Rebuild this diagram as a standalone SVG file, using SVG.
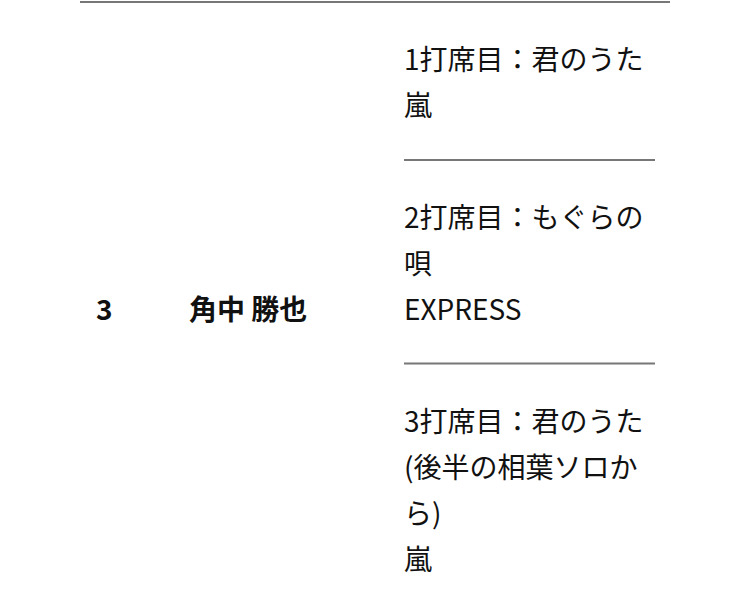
<svg xmlns="http://www.w3.org/2000/svg" width="750" height="611" viewBox="0 0 750 611">
<style>
.t{font-family:"Noto Sans CJK JP","Noto Sans",sans-serif;font-size:28px;fill:#111}
.b{font-weight:bold}
.rule{stroke:#777;stroke-width:2}
</style>
<rect width="750" height="611" fill="#fff"/>
<g id="rules">
<line class="rule" x1="80" y1="2" x2="670" y2="2"/>
<line class="rule" x1="404" y1="160" x2="655" y2="160"/>
<line class="rule" x1="404" y1="363.5" x2="655" y2="363.5"/>
</g>
<g id="num"><text class="t b" x="96" y="320">3</text></g>
<g id="name"><text class="t b" x="189" y="320">角中 勝也</text></g>
<g id="at1">
<text class="t" x="404" y="70">1打席目：君のうた</text>
<text class="t" x="404" y="116">嵐</text>
</g>
<g id="at2">
<text class="t" x="404" y="228">2打席目：もぐらの</text>
<text class="t" x="404" y="274">唄</text>
<text class="t" x="404" y="320">EXPRESS</text>
</g>
<g id="at3">
<text class="t" x="404" y="432">3打席目：君のうた</text>
<text class="t" x="404" y="478">(後半の相葉ソロか</text>
<text class="t" x="404" y="524">ら)</text>
<text class="t" x="404" y="570">嵐</text>
</g>
</svg>
